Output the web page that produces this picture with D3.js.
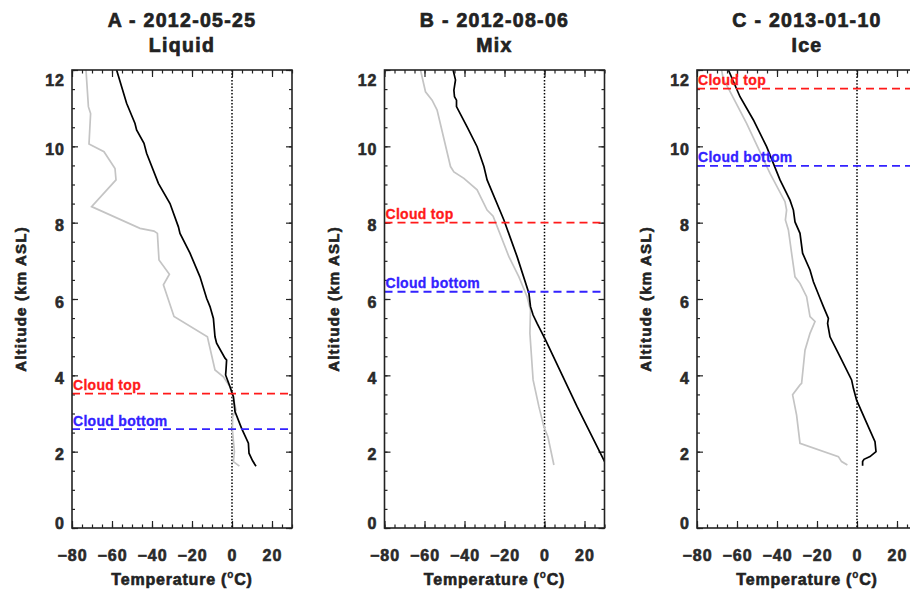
<!DOCTYPE html>
<html>
<head>
<meta charset="utf-8">
<script src="https://cdn.jsdelivr.net/npm/d3@7"></script>
<style>
  body { margin: 0; background: #fff; }
  text { font-family: "Liberation Sans", Arial, Helvetica, sans-serif; font-weight: bold; }
</style>
</head>
<body>
<svg width="910" height="590"></svg>
<script>
// panel titles / cloud layers
var titles = ["A - 2012-05-25", "B - 2012-08-06", "C - 2013-01-10"];
var phases = ["Liquid", "Mix", "Ice"];
var cloudTop = [3.52, 8.0, 11.51];
var cloudBottom = [2.59, 6.19, 9.49];

// profiles as [temperature degC, altitude km]
var tempA = [[-57.7, 12.0], [-52.7, 11.13], [-48.5, 10.6], [-47.7, 10.43], [-44, 10.08], [-42.7, 9.82],
    [-36.8, 9.03], [-31, 8.5], [-26.8, 7.89], [-26, 7.72], [-21, 7.2], [-16, 6.58], [-12.7, 6.02],
    [-11, 5.8], [-9.3, 5.49], [-8.5, 5.01], [-7.7, 4.84], [-3.5, 4.45], [-2.7, 4.4], [-3, 4.14],
    [-3.2, 4.01], [-1, 3.7], [0.7, 3.44], [1.5, 3.05], [4.8, 2.61], [8.2, 2.22], [8.5, 1.96],
    [10.3, 1.76], [12, 1.62]];
var dewA = [[-73, 12], [-71.8, 11.04], [-70.7, 10.86], [-71.5, 10.06], [-64, 9.86], [-58.5, 9.42],
    [-58, 9.12], [-70.2, 8.42], [-46, 7.85], [-39, 7.78], [-37.3, 7.72], [-36.5, 7.02], [-31.3, 6.65],
    [-34.3, 6.37], [-29, 5.54], [-12.3, 5.01], [-8.5, 4.14], [-4.3, 3.96], [-1, 3.7], [0.7, 3.4],
    [2, 3.09], [0.3, 2.92], [0.2, 2.57], [1.2, 2.0], [0.7, 1.74], [3.7, 1.62]];
var tempB = [[-45.7, 12], [-44.5, 11.74], [-45.3, 11.47], [-45, 11.3], [-44, 11.21], [-44, 11.04],
    [-38.7, 10.51], [-33.7, 9.99], [-30.3, 9.47], [-28.7, 9.12], [-20.3, 8.07], [-13.7, 7.11],
    [-7.8, 6.15], [-7, 5.8], [-5.7, 5.58], [-3.7, 5.36], [0.5, 4.93], [16.3, 3.18], [31.2, 1.62]];
var dewB = [[-62, 12], [-59.5, 11.43], [-56.2, 11.21], [-53.7, 10.95], [-47, 9.47], [-45.3, 9.33],
    [-40.3, 9.16], [-33.7, 8.86], [-28.7, 8.33], [-25.7, 8.17], [-17.8, 7.11], [-12.8, 6.58],
    [-8.7, 6.06], [-7, 5.71], [-7.3, 5.1], [-5.7, 3.88], [-2.8, 3.18], [-0.3, 2.65], [1.7, 2.39],
    [4.7, 1.65]];
var tempC = [[-64.3, 12], [-58.5, 11.3], [-51.8, 10.69], [-45.2, 9.99], [-38.5, 9.12], [-33.5, 8.59],
    [-31.8, 8.33], [-31, 8.02], [-28.5, 7.72], [-27.2, 7.2], [-23.5, 6.76], [-21.8, 6.45], [-18.8, 6.06],
    [-16.8, 5.8], [-14.3, 5.49], [-14.7, 5.36], [-13.5, 5.01], [-8.5, 4.49], [-2.7, 3.88], [-1.8, 3.66],
    [-0.2, 3.35], [5.7, 2.65], [9, 2.26], [9.5, 2.0], [6.5, 1.87], [3.5, 1.8], [2.8, 1.74], [2.8, 1.63]];
var dewC = [[-67.7, 12], [-66.8, 11.74], [-64.3, 11.52], [-55.2, 10.6], [-43.5, 9.29], [-36, 8.55],
    [-35.2, 8.33], [-35.8, 8.07], [-34.3, 7.81], [-32.7, 7.2], [-31, 6.58], [-28.5, 6.41], [-25.2, 6.06],
    [-23.5, 5.54], [-21, 5.41], [-23.5, 5.1], [-26, 4.66], [-27.7, 3.79], [-28.5, 3.75], [-32.2, 3.49],
    [-30.2, 2.96], [-28.5, 2.22], [-9.3, 1.87], [-7.7, 1.74], [-4.8, 1.65]];

var xTicks = [-80, -60, -40, -20, 0, 20];
var yTicks = [0, 2, 4, 6, 8, 10, 12];

var temps = [tempA, tempB, tempC],
    dews = [dewA, dewB, dewC];

var svg = d3.select("svg");

var plotW = 220, plotTop = 70, plotBottom = 528, left0 = 72, step = 312.5;
var h = plotBottom - plotTop;

var x = d3.scaleLinear().domain([-80, 30]).range([0, plotW]);
var y = d3.scaleLinear().domain([0, 12]).range([h, 0]);

var line = d3.line()
    .x(function (d) { return x(d[0]); })
    .y(function (d) { return y(d[1]); });

titles.forEach(function (t, i) { drawPanel(i); });

function noDomain(sel) { sel.select(".domain").remove(); }

// heavier glyphs, the original text is rendered thick
function heavy(sel, color, w) {
    sel.attr("fill", color).attr("stroke", color).attr("stroke-width", w);
}

function drawPanel(i) {
    var g = svg.append("g")
        .attr("transform", "translate(" + (left0 + i * step) + "," + plotTop + ")");

    g.append("clipPath").attr("id", "clip" + i)
        .append("rect").attr("width", plotW).attr("height", h);

    // minor ticks on all four sides
    var xMinor = d3.range(-80, 31, 5), yMinor = d3.range(0, 12.01, 0.5);
    g.append("g").attr("transform", "translate(0," + h + ")")
        .call(d3.axisBottom(x).tickValues(xMinor).tickSize(-3.5).tickFormat("")).call(noDomain);
    g.append("g")
        .call(d3.axisTop(x).tickValues(xMinor).tickSize(-3.5).tickFormat("")).call(noDomain);
    g.append("g")
        .call(d3.axisLeft(y).tickValues(yMinor).tickSize(-3).tickFormat("")).call(noDomain);
    g.append("g").attr("transform", "translate(" + plotW + ",0)")
        .call(d3.axisRight(y).tickValues(yMinor).tickSize(-3).tickFormat("")).call(noDomain);

    // major ticks
    var xb = g.append("g").attr("transform", "translate(0," + h + ")")
        .call(d3.axisBottom(x).tickValues(xTicks).tickSize(-7).tickPadding(22)).call(noDomain);
    g.append("g")
        .call(d3.axisTop(x).tickValues(xTicks).tickSize(-7).tickFormat("")).call(noDomain);
    var yl = g.append("g")
        .call(d3.axisLeft(y).tickValues(yTicks).tickSize(-6).tickPadding(7)).call(noDomain);
    g.append("g").attr("transform", "translate(" + plotW + ",0)")
        .call(d3.axisRight(y).tickValues(yTicks).tickSize(-6).tickFormat("")).call(noDomain);

    g.selectAll(".tick line").attr("stroke", "#222").attr("stroke-width", 1.2);
    [xb, yl].forEach(function (a) {
        a.selectAll("text")
            .call(heavy, "#2a2a2a", 0.6)
            .style("font-size", "16px")
            .style("letter-spacing", "1px");
    });
    // end labels pulled inside like the original
    yl.selectAll("text").attr("y", function (d) {
        return d === 12 ? 10 : (d === 0 ? -4.5 : 3);
    });

    // zero line
    g.append("line")
        .attr("x1", x(0)).attr("x2", x(0))
        .attr("y1", 0).attr("y2", h)
        .attr("stroke", "#000")
        .attr("stroke-width", 1.5)
        .attr("stroke-dasharray", "1.5,1.8");

    // profiles
    g.append("path")
        .datum(dews[i])
        .attr("d", line)
        .attr("clip-path", "url(#clip" + i + ")")
        .attr("fill", "none")
        .attr("stroke", "#c4c4c4")
        .attr("stroke-width", 1.7);
    g.append("path")
        .datum(temps[i])
        .attr("d", line)
        .attr("clip-path", "url(#clip" + i + ")")
        .attr("fill", "none")
        .attr("stroke", "#000")
        .attr("stroke-width", 1.7);

    // cloud layers
    var layers = [
        { alt: cloudTop[i], label: "Cloud top", color: "#ff1a1a" },
        { alt: cloudBottom[i], label: "Cloud bottom", color: "#3322ff" }
    ];
    layers.forEach(function (l) {
        g.append("line")
            .attr("x1", 0).attr("x2", plotW)
            .attr("y1", y(l.alt)).attr("y2", y(l.alt))
            .attr("stroke", l.color)
            .attr("stroke-width", 1.8)
            .attr("stroke-dasharray", "8,5");
        g.append("text")
            .attr("x", 1)
            .attr("y", y(l.alt) - 3.5)
            .call(heavy, l.color, 0.3)
            .style("font-size", "14px")
            .style("letter-spacing", "0.3px")
            .text(l.label);
    });

    // frame
    g.append("rect")
        .attr("width", plotW).attr("height", h)
        .attr("fill", "none")
        .attr("stroke", "#222")
        .attr("stroke-width", 1.6);

    // titles
    g.append("text")
        .attr("x", plotW / 2).attr("y", -43)
        .attr("text-anchor", "middle")
        .call(heavy, "#222", 0.7)
        .style("font-size", "19.5px")
        .style("letter-spacing", "1.3px")
        .text(titles[i]);
    g.append("text")
        .attr("x", plotW / 2).attr("y", -18)
        .attr("text-anchor", "middle")
        .call(heavy, "#222", 0.7)
        .style("font-size", "19.5px")
        .style("letter-spacing", "1.3px")
        .text(phases[i]);

    // axis titles
    var xt = g.append("text")
        .attr("x", plotW / 2).attr("y", 515)
        .attr("text-anchor", "middle")
        .call(heavy, "#222", 0.6)
        .style("font-size", "16px")
        .style("letter-spacing", "0.8px");
    xt.append("tspan").text("Temperature (");
    xt.append("tspan").attr("dy", -7).style("font-size", "10px").attr("stroke-width", 0.3).text("o");
    xt.append("tspan").attr("dy", 7).text("C)");

    g.append("text")
        .attr("transform", "translate(-51," + (h / 2) + ") rotate(-90)")
        .attr("text-anchor", "middle")
        .attr("dy", "0.36em")
        .call(heavy, "#222", 0.6)
        .style("font-size", "15px")
        .style("letter-spacing", "1.2px")
        .text("Altitude (km ASL)");
}
</script>
</body>
</html>
